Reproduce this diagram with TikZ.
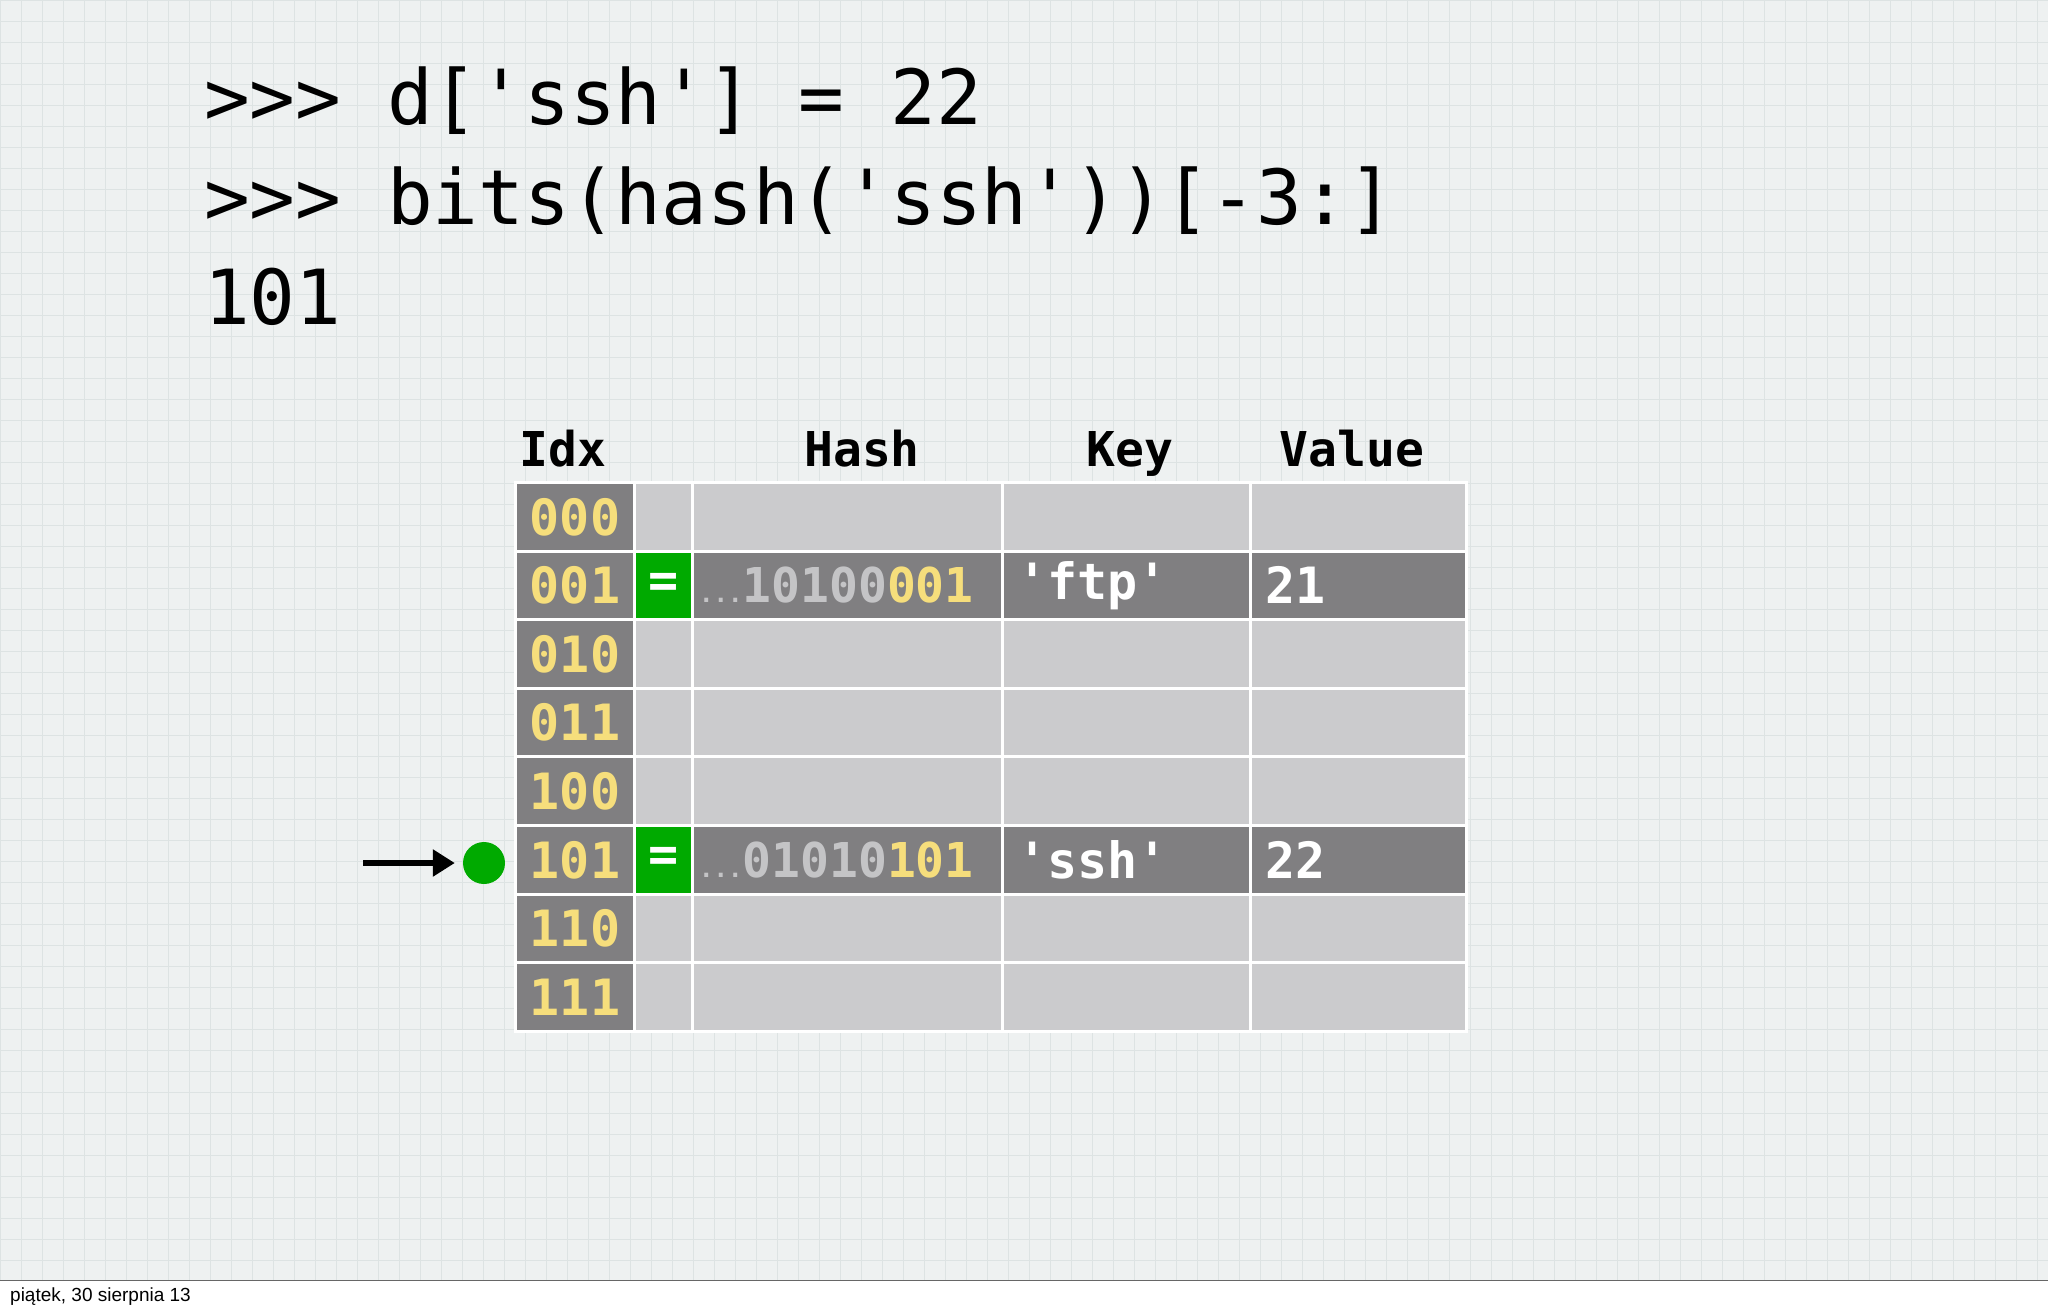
\documentclass[tikz,border=0pt]{standalone}
\usepackage{fontspec}
\setmonofont{DejaVu Sans Mono}
\setsansfont{Liberation Sans}
\usetikzlibrary{arrows.meta}
\definecolor{bg}{HTML}{EEF1F1}
\definecolor{gridc}{HTML}{DDE3E3}
\definecolor{darkc}{HTML}{807F81}
\definecolor{lightc}{HTML}{CBCBCD}
\definecolor{greenc}{HTML}{00AA00}
\definecolor{yel}{HTML}{F6DE7C}
\definecolor{gtxt}{HTML}{C4C4C6}
\begin{document}
\begin{tikzpicture}[x=1pt,y=-1pt,
  cell/.style={draw=white,line width=3pt,anchor=north west,inner sep=0pt,minimum height=68.6pt,font=\ttfamily\fontsize{50}{50}\selectfont},
  code/.style={anchor=base west,inner sep=0pt,font=\ttfamily\fontsize{76}{76}\selectfont},
  hdr/.style={anchor=base,inner sep=0pt,font=\ttfamily\bfseries\fontsize{48}{48}\selectfont}]
\useasboundingbox (0,0) rectangle (2048,1312);
\fill[bg] (0,0) rectangle (2048,1312);
\foreach \k in {0,21,...,2048}{\draw[gridc,line width=0.7pt] (\k,0) -- (\k,1280);}
\foreach \k in {0,21,...,1280}{\draw[gridc,line width=0.7pt] (0,\k) -- (2048,\k);}
\fill[white] (0,1280) rectangle (2048,1312);
\draw[black!60,line width=1pt] (0,1280) -- (2048,1280);
\node[anchor=base west,inner sep=0pt,font=\sffamily\fontsize{19}{19}\selectfont] (foot) at (10,1301) {piątek, 30 sierpnia 13};
\node[code] (c1) at (204,124) {>>> d['ssh'] = 22};
\node[code] (c2) at (204,224) {>>> bits(hash('ssh'))[-3:]};
\node[code] (c3) at (204,324) {101};
\node[hdr] (h1) at (563,466) {Idx};
\node[hdr] (h2) at (862,466) {Hash};
\node[hdr] (h3) at (1130,466) {Key};
\node[hdr] (h4) at (1352,466) {Value};
\foreach \i/\lab in {0/000,1/001,2/010,3/011,4/100,5/101,6/110,7/111}{
  \pgfmathsetmacro{\yy}{481+68.6*\i}
  \ifnum\i=1 \def\fc{darkc}\else\ifnum\i=5 \def\fc{darkc}\else\def\fc{lightc}\fi\fi
  \node[cell,fill=darkc,minimum width=119pt,text=yel,font=\ttfamily\bfseries\fontsize{50}{50}\selectfont] (idx\i) at (514,\yy) {\lab};
  \node[cell,fill=lightc,minimum width=58pt] (eq\i) at (633,\yy) {};
  \node[cell,fill=\fc,minimum width=310pt] (hs\i) at (691,\yy) {};
  \node[cell,fill=\fc,minimum width=248pt] (ky\i) at (1001,\yy) {};
  \node[cell,fill=\fc,minimum width=216pt] (vl\i) at (1249,\yy) {};
}
\foreach \i/\hb/\hy/\k/\v in {1/10100/001/'ftp'/21,5/01010/101/'ssh'/22}{
  \node[cell,fill=greenc,text=white,minimum width=58pt,font=\ttfamily\bfseries\fontsize{50}{50}\selectfont] at (eq\i.north west) {=};
  \node[anchor=west,inner sep=0pt,font=\ttfamily\bfseries\fontsize{48}{48}\selectfont] at ([xshift=8pt]hs\i.west) {\textcolor{gtxt}{\fontsize{24}{24}\selectfont...}\textcolor{gtxt}{\hb}\textcolor{yel}{\hy}};
  \node[anchor=west,inner sep=0pt,text=white,font=\ttfamily\bfseries\fontsize{50}{50}\selectfont] at ([xshift=16pt]ky\i.west) {\k};
  \node[anchor=west,inner sep=0pt,text=white,font=\ttfamily\bfseries\fontsize{50}{50}\selectfont] at ([xshift=16pt]vl\i.west) {\v};
}
\node[circle,fill=greenc,minimum size=42pt,inner sep=0pt] (dot) at (484,863) {};
\coordinate (as) at (363,863);
\draw[line width=6pt,-{Triangle[length=22pt,width=26pt]}] (as) -- ([xshift=-8pt]dot.west);
\end{tikzpicture}
\end{document}
